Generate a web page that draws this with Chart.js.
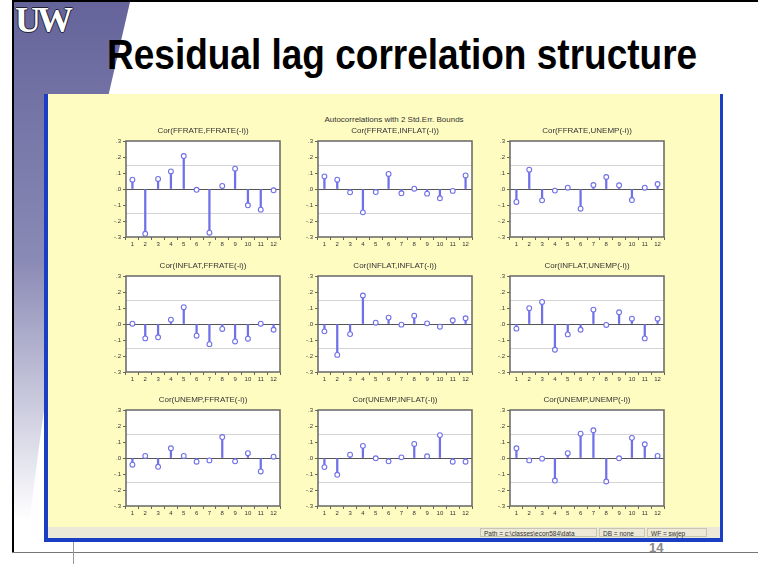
<!DOCTYPE html>
<html>
<head>
<meta charset="utf-8">
<script src="https://cdn.jsdelivr.net/npm/chart.js@4.4.1/dist/chart.umd.min.js"></script>
<style>
	body{margin:0;width:758px;height:564px;position:relative;overflow:hidden;background:#fff;font-family:'Liberation Sans',Arial,sans-serif;}
	#deco{position:absolute;left:0;top:0;}
	#logo{position:absolute;left:15px;top:-1px;font:bold 36px 'Liberation Serif',serif;color:#fff;letter-spacing:-4px;
		text-shadow:-1px 0 #223,1px 0 #223,0 -1px #223,0 1px #223;}
	#title{position:absolute;left:107px;top:31px;font:bold 37px 'Liberation Sans',Arial,sans-serif;color:#000;white-space:nowrap;
		transform:scaleY(1.15);transform-origin:left top;}
	#win{position:absolute;left:44px;top:94px;width:672px;height:444px;background:#fffcc2;border-left:4px solid #1a3ec4;border-right:3px solid #1a3ec4;border-bottom:4px solid #1a3ec4;}
	#graphTitle{position:absolute;left:0;top:115px;width:788px;text-align:center;font-size:8px;color:#333;}
	#status{position:absolute;left:48px;top:527px;width:672px;height:11px;background:#ece9d8;font-size:6.5px;color:#333;}
	#status span{position:absolute;top:1px;height:9px;line-height:9px;border:1px solid #c8c4b0;padding:0 3px;box-sizing:border-box;}
	#pnum{position:absolute;left:649px;top:540px;font:bold 13px 'Liberation Sans',Arial,sans-serif;color:#888;}
	canvas.panel{position:absolute;}
</style>
</head>
<body>
<svg id="deco" width="758" height="564">
	<defs>
		<linearGradient id="swoosh" x1="0" y1="0" x2="0" y2="1">
			<stop offset="0" stop-color="#64649b"/>
			<stop offset="0.5" stop-color="#8a8ab6"/>
			<stop offset="1" stop-color="#ffffff"/>
		</linearGradient>
	</defs>
	<path d="M13,2 L130,2 Q98,140 66,280 Q46,380 30,520 L13,520 Z" fill="url(#swoosh)"/>
	<rect x="12" y="0" width="746" height="2" fill="#000"/>
	<rect x="12" y="0" width="2" height="552" fill="#000"/>
	<rect x="12" y="552" width="746" height="1" fill="#777"/>
	<rect x="73" y="538" width="1" height="26" fill="#999"/>
</svg>
<div id="logo">UW</div>
<div id="title">Residual lag correlation structure</div>
<div id="win"></div>
<div id="graphTitle">Autocorrelations with 2 Std.Err. Bounds</div>
<div id="status">
	<span style="left:432px;width:117px;">Path = c:\classes\econ584\data</span>
	<span style="left:551px;width:46px;">DB = none</span>
	<span style="left:599px;width:60px;">WF = swjep</span>
</div>
<div id="pnum">14</div>
<script>
'use strict';

// lags on the x axis
const lags = ['1', '2', '3', '4', '5', '6', '7', '8', '9', '10', '11', '12'];

// cross correlations, one array per panel
const ffrateFfrate = [0.058, -0.280, 0.063, 0.110, 0.206, -0.005, -0.273, 0.019, 0.127, -0.102, -0.129, -0.008];
const ffrateInflat = [0.079, 0.058, -0.021, -0.146, -0.019, 0.094, -0.027, 0.002, -0.029, -0.058, -0.012, 0.085];
const ffrateUnemp = [-0.081, 0.121, -0.071, -0.010, 0.008, -0.123, 0.025, 0.075, 0.023, -0.069, 0.008, 0.031];
const inflatFfrate = [0.002, -0.090, -0.083, 0.027, 0.105, -0.073, -0.126, -0.031, -0.109, -0.092, 0.002, -0.036];
const inflatInflat = [-0.046, -0.193, -0.063, 0.178, 0.008, 0.040, -0.004, 0.052, 0.004, -0.017, 0.023, 0.036];
const inflatUnemp = [-0.029, 0.099, 0.138, -0.161, -0.065, -0.036, 0.090, -0.006, 0.073, 0.033, -0.090, 0.033];
const unempFfrate = [-0.042, 0.013, -0.055, 0.061, 0.013, -0.023, -0.015, 0.131, -0.021, 0.030, -0.084, 0.008];
const unempInflat = [-0.057, -0.105, 0.021, 0.076, -0.002, -0.021, 0.004, 0.088, 0.011, 0.143, -0.023, -0.023];
const unempUnemp = [0.061, -0.015, -0.004, -0.141, 0.030, 0.152, 0.173, -0.147, -0.002, 0.126, 0.086, 0.013];

const panelTitles = [
	'Cor(FFRATE,FFRATE(-i))', 'Cor(FFRATE,INFLAT(-i))', 'Cor(FFRATE,UNEMP(-i))',
	'Cor(INFLAT,FFRATE(-i))', 'Cor(INFLAT,INFLAT(-i))', 'Cor(INFLAT,UNEMP(-i))',
	'Cor(UNEMP,FFRATE(-i))', 'Cor(UNEMP,INFLAT(-i))', 'Cor(UNEMP,UNEMP(-i))'
];
const panelData = [ffrateFfrate, ffrateInflat, ffrateUnemp, inflatFfrate, inflatInflat, inflatUnemp, unempFfrate, unempInflat, unempUnemp];

// 2 std. err. band and axis range
const stdErrBound = 0.15;
const yMin = -0.3;
const yMax = 0.3;
const yStep = 0.1;

// where the plot boxes sit on the slide
const colLeft = [126, 318, 510];
const rowTop = [141, 276, 410];
const plotW = 154, plotH = 96;
const padL = 30, padT = 20, padB = 18;

const stemColor = 'rgb(112, 112, 232)';

//白い背景、2SE線、ゼロ線、枠
const panelFrame = {
	id: 'panelFrame',
	beforeDraw(chart){
		let a = chart.chartArea;
		chart.ctx.save();
		chart.ctx.fillStyle = '#fff';
		chart.ctx.fillRect(a.left, a.top, a.right - a.left, a.bottom - a.top);
		chart.ctx.restore();
	},
	beforeDatasetsDraw(chart){
		let ctx = chart.ctx, a = chart.chartArea, y = chart.scales.y;
		ctx.save();
		ctx.lineWidth = 1;
		ctx.strokeStyle = '#d4d4d4';
		[stdErrBound, -stdErrBound].forEach((v) => {
			let py = Math.round(y.getPixelForValue(v)) + 0.5;
			ctx.beginPath();
			ctx.moveTo(a.left, py);
			ctx.lineTo(a.right, py);
			ctx.stroke();
		});
		ctx.strokeStyle = '#555';
		let pz = Math.round(y.getPixelForValue(0)) + 0.5;
		ctx.beginPath();
		ctx.moveTo(a.left, pz);
		ctx.lineTo(a.right, pz);
		ctx.stroke();
		ctx.restore();
	},
	afterDraw(chart){
		let ctx = chart.ctx, a = chart.chartArea;
		ctx.save();
		ctx.strokeStyle = '#666';
		ctx.lineWidth = 1.5;
		ctx.strokeRect(a.left, a.top, a.right - a.left, a.bottom - a.top);
		ctx.restore();
	}
};

function yLabel(v){
	let s = (Math.round(v * 10) / 10).toFixed(1);
	return s.replace('0.', '.');
}

for(let n = 0; n < panelData.length; n++){
	let canvas = document.createElement('canvas');
	canvas.className = 'panel';
	canvas.width = padL + plotW + 12;
	canvas.height = padT + plotH + padB;
	canvas.style.left = (colLeft[n % 3] - padL) + 'px';
	canvas.style.top = (rowTop[Math.floor(n / 3)] - padT) + 'px';
	document.body.appendChild(canvas);

	new Chart(canvas.getContext('2d'), {
		type: 'bar',
		data: {
			labels: lags,
			datasets: [{
				type: 'bar',
				data: panelData[n],
				backgroundColor: stemColor,
				barThickness: 1.6,
				order: 2
			}, {
				type: 'line',
				data: panelData[n],
				showLine: false,
				pointStyle: 'circle',
				pointRadius: 2.4,
				pointBorderWidth: 1.1,
				pointBorderColor: stemColor,
				pointBackgroundColor: '#fff',
				order: 1
			}]
		},
		options: {
			responsive: false,
			animation: false,
			layout: {padding: {left: 0, right: 12, top: 0, bottom: 0}},
			plugins: {
				legend: {display: false},
				tooltip: {enabled: false},
				title: {
					display: true,
					text: panelTitles[n],
					fullSize: false,
					color: '#333',
					font: {family: "'Liberation Sans', Arial, sans-serif", size: 8, weight: 'normal', lineHeight: 1.2},
					padding: {top: 5, bottom: 5.4}
				}
			},
			scales: {
				x: {
					offset: true,
					grid: {display: true, drawOnChartArea: false, drawTicks: true, tickLength: 3, color: '#666'},
					border: {display: false},
					ticks: {color: '#333', font: {size: 6}, padding: 1, autoSkip: false, maxRotation: 0},
					afterFit: (scale) => { scale.height = padB; }
				},
				y: {
					min: yMin,
					max: yMax,
					grid: {display: true, drawOnChartArea: false, drawTicks: true, tickLength: 3, color: '#666'},
					border: {display: false},
					ticks: {stepSize: yStep, color: '#333', font: {size: 6}, padding: 2, callback: yLabel},
					afterFit: (scale) => { scale.width = padL; }
				}
			}
		},
		plugins: [panelFrame]
	});
}
</script>
</body>
</html>
